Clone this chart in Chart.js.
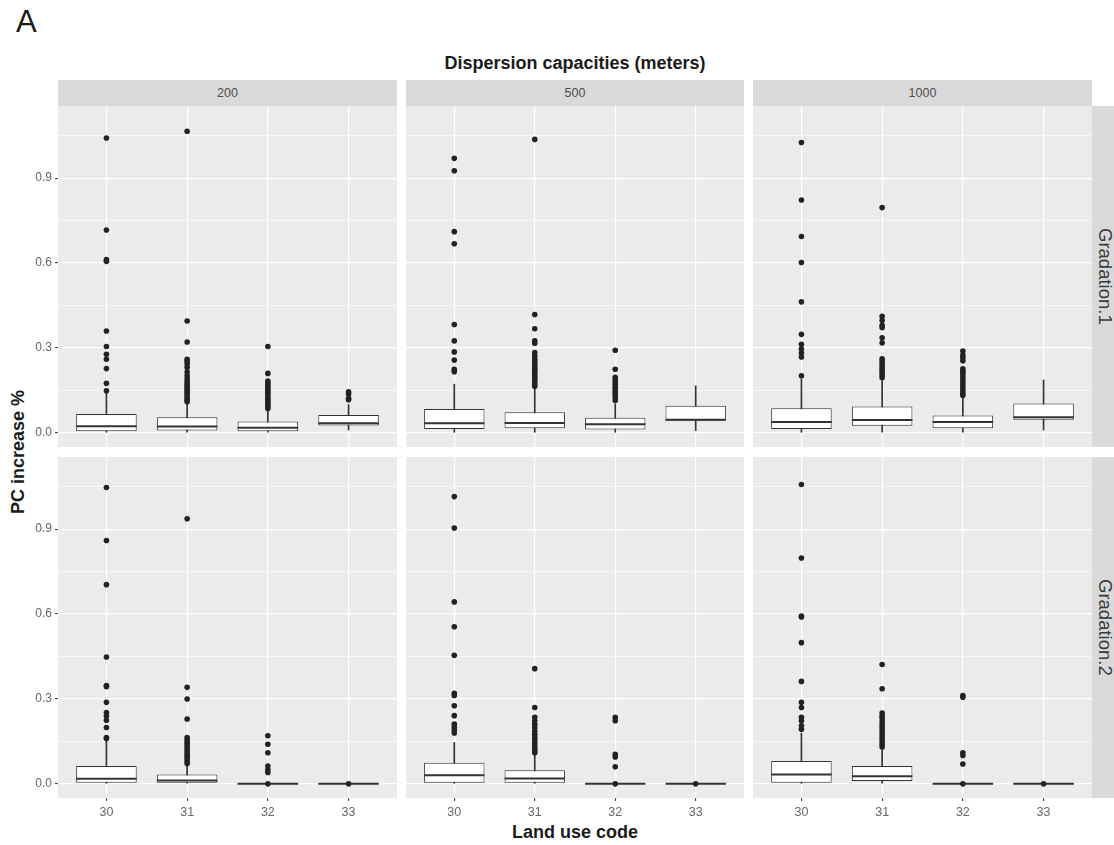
<!DOCTYPE html>
<html>
<head>
<meta charset="utf-8">
<script src="https://cdn.jsdelivr.net/npm/chart.js@4.4.1/dist/chart.umd.min.js"></script>
<style>
  body { margin: 0; width: 1114px; height: 845px; background: #fff; overflow: hidden; position: relative;
         font-family: "Liberation Sans", Arial, sans-serif; }
  .txt { position: absolute; color: #1a1a1a; white-space: nowrap; }
  .strip { position: absolute; background: #d9d9d9; color: #4d4d4d; font-size: 12.5px;
           display: flex; align-items: center; justify-content: center; }
  .strip.side { writing-mode: vertical-rl; font-size: 18.5px; color: #3a3a3a; }
  .panel { position: absolute; }
</style>
</head>
<body>
<div class="txt" style="left:16px; top:4px; font-size:31px;">A</div>
<div class="txt" id="title" style="left:58px; width:1034px; top:53px; text-align:center; font-size:18px; font-weight:bold;">Dispersion capacities (meters)</div>
<div class="txt" style="left:7px; top:106px; height:692px; width:22px; writing-mode:vertical-rl; transform:rotate(180deg);
     display:flex; align-items:center; justify-content:center; font-size:18px; font-weight:bold;">PC increase %</div>
<div class="txt" style="left:58px; width:1034px; top:822px; text-align:center; font-size:18px; font-weight:bold;">Land use code</div>
<div id="plots"></div>
<script>
const codes = [30, 31, 32, 33];
const capacities = ['200', '500', '1000'];
const gradations = ['Gradation.1', 'Gradation.2'];
const yTicks = [0, 0.15, 0.3, 0.45, 0.6, 0.75, 0.9, 1.05];

// one row per panel: G1-200, G1-500, G1-1000, G2-200, G2-500, G2-1000; one value per land use code
const lowerWhisker = [
  [0, 0, 0, 0.01],
  [0, 0, 0, 0.008],
  [0, 0, 0, 0.01],
  [0, 0, 0, 0],
  [0, 0, 0, 0],
  [0, 0, 0, 0]
];
const q1 = [
  [0.006, 0.008, 0.006, 0.026],
  [0.014, 0.016, 0.012, 0.043],
  [0.014, 0.025, 0.016, 0.046],
  [0.004, 0.004, 0, 0],
  [0.004, 0.004, 0, 0],
  [0.004, 0.01, 0, 0]
];
const median = [
  [0.023, 0.022, 0.018, 0.034],
  [0.034, 0.035, 0.03, 0.046],
  [0.038, 0.045, 0.038, 0.055],
  [0.018, 0.012, 0, 0],
  [0.03, 0.019, 0, 0],
  [0.033, 0.027, 0, 0]
];
const q3 = [
  [0.067, 0.055, 0.04, 0.063],
  [0.084, 0.073, 0.053, 0.096],
  [0.087, 0.093, 0.061, 0.104],
  [0.063, 0.033, 0, 0],
  [0.075, 0.048, 0, 0],
  [0.081, 0.063, 0, 0]
];
const upperWhisker = [
  [0.14, 0.105, 0.078, 0.1],
  [0.172, 0.155, 0.102, 0.166],
  [0.19, 0.185, 0.125, 0.187],
  [0.152, 0.065, 0, 0],
  [0.146, 0.104, 0, 0],
  [0.18, 0.12, 0, 0]
];
const outliers = [
  [
    [1.042, 0.717, 0.612, 0.606, 0.36, 0.305, 0.278, 0.26, 0.227, 0.175, 0.149],
    [1.066, 0.395, 0.321, 0.26, 0.252, 0.243, 0.231, 0.215, 0.202, 0.19, 0.18, 0.172, 0.165, 0.158, 0.15, 0.143, 0.137, 0.13, 0.122, 0.115, 0.11],
    [0.305, 0.21, 0.183, 0.175, 0.168, 0.16, 0.152, 0.145, 0.138, 0.13, 0.122, 0.115, 0.108, 0.1, 0.093, 0.086],
    [0.145, 0.137, 0.122, 0.117]
  ],
  [
    [0.97, 0.926, 0.711, 0.668, 0.383, 0.325, 0.286, 0.257, 0.225, 0.216],
    [1.037, 0.418, 0.368, 0.325, 0.317, 0.284, 0.272, 0.262, 0.255, 0.247, 0.24, 0.232, 0.225, 0.218, 0.21, 0.202, 0.195, 0.188, 0.18, 0.172, 0.165],
    [0.292, 0.225, 0.196, 0.188, 0.18, 0.172, 0.163, 0.155, 0.147, 0.14, 0.132, 0.123, 0.114],
    []
  ],
  [
    [1.026, 0.823, 0.694, 0.602, 0.463, 0.348, 0.313, 0.296, 0.282, 0.268, 0.202],
    [0.796, 0.412, 0.398, 0.38, 0.372, 0.336, 0.318, 0.262, 0.254, 0.245, 0.236, 0.228, 0.22, 0.212, 0.204, 0.195],
    [0.289, 0.275, 0.265, 0.255, 0.226, 0.218, 0.21, 0.2, 0.19, 0.18, 0.17, 0.16, 0.15, 0.14, 0.132],
    []
  ],
  [
    [1.047, 0.86, 0.704, 0.448, 0.347, 0.343, 0.288, 0.252, 0.24, 0.225, 0.199, 0.164, 0.16],
    [0.937, 0.341, 0.3, 0.229, 0.164, 0.155, 0.146, 0.138, 0.13, 0.122, 0.113, 0.105, 0.097, 0.089, 0.08, 0.072],
    [0.17, 0.14, 0.11, 0.063, 0.05, 0.04, 0],
    [0]
  ],
  [
    [1.015, 0.904, 0.643, 0.555, 0.454, 0.32, 0.312, 0.276, 0.241, 0.211, 0.2, 0.19, 0.18],
    [0.407, 0.27, 0.235, 0.223, 0.21, 0.198, 0.186, 0.175, 0.165, 0.155, 0.145, 0.135, 0.125, 0.115, 0.11],
    [0.235, 0.223, 0.104, 0.095, 0.06, 0],
    [0]
  ],
  [
    [1.058, 0.798, 0.593, 0.59, 0.499, 0.362, 0.288, 0.27, 0.235, 0.223, 0.205, 0.193],
    [0.422, 0.336, 0.25, 0.24, 0.233, 0.222, 0.21, 0.2, 0.19, 0.18, 0.17, 0.16, 0.15, 0.14, 0.13],
    [0.312, 0.306, 0.11, 0.1, 0.07, 0],
    [0]
  ]
];

const colX = [[58, 397], [406, 744], [753, 1092]];
const rowY = [[106, 447], [457, 798]];
const isMajor = (v) => Math.abs(v / 0.3 - Math.round(v / 0.3)) < 1e-6;

const panelBg = {
  id: 'panelBg',
  beforeDraw(chart) {
    const { ctx, chartArea: a } = chart;
    ctx.save();
    ctx.fillStyle = '#ebebeb';
    ctx.fillRect(a.left, a.top, a.width, a.height);
    ctx.restore();
  }
};

const plots = document.getElementById('plots');

function addDiv(cls, left, top, width, height, text) {
  const d = document.createElement('div');
  d.className = cls;
  Object.assign(d.style, { left: left + 'px', top: top + 'px', width: width + 'px', height: height + 'px' });
  if (text) d.textContent = text;
  plots.appendChild(d);
  return d;
}

// keep the plot area exactly where the facet sits: no label overhang padding
function fixSize(s, size) {
  if (s.isHorizontal()) s.height = size; else s.width = size;
  s.paddingTop = 0;
  s.paddingBottom = 0;
  s.paddingLeft = 0;
  s.paddingRight = 0;
}

capacities.forEach((cap, c) => {
  addDiv('strip', colX[c][0], 80, colX[c][1] - colX[c][0], 26, cap);
});
gradations.forEach((g, r) => {
  addDiv('strip side', 1092, rowY[r][0], 26, rowY[r][1] - rowY[r][0], g);
});

gradations.forEach((g, r) => {
  capacities.forEach((cap, c) => {
    const p = r * 3 + c;
    const leftAxis = c === 0 ? 40 : 0;
    const bottomAxis = r === 1 ? 28 : 0;
    const box = addDiv('panel', colX[c][0] - leftAxis, rowY[r][0],
      colX[c][1] - colX[c][0] + leftAxis, rowY[r][1] - rowY[r][0] + bottomAxis);
    const canvas = document.createElement('canvas');
    box.appendChild(canvas);

    const outlierPts = [];
    codes.forEach((code, i) => outliers[p][i].forEach((v) => outlierPts.push({ x: code, y: v })));

    new Chart(canvas, {
      type: 'bar',
      data: {
        datasets: [
          {
            label: 'whisker',
            data: codes.map((code, i) => ({ x: code, y: [lowerWhisker[p][i], upperWhisker[p][i]] })),
            backgroundColor: '#333333',
            barThickness: 1,
            grouped: false,
            order: 4
          },
          {
            label: 'box',
            data: codes.map((code, i) => ({ x: code, y: [q1[p][i], q3[p][i]] })),
            backgroundColor: '#ffffff',
            borderColor: '#333333',
            borderWidth: 1,
            borderSkipped: false,
            barPercentage: 0.75,
            categoryPercentage: 1,
            grouped: false,
            order: 3
          },
          {
            type: 'scatter',
            label: 'median',
            data: codes.map((code, i) => ({ x: code, y: median[p][i] })),
            pointStyle: 'line',
            pointRadius: (ctx) => {
              const s = ctx.chart.scales.x;
              return Math.abs(s.getPixelForValue(1) - s.getPixelForValue(0)) * 0.375;
            },
            borderColor: '#333333',
            borderWidth: 2,
            order: 2
          },
          {
            type: 'scatter',
            label: 'outliers',
            data: outlierPts,
            pointRadius: 2.8,
            backgroundColor: '#222222',
            borderWidth: 0,
            order: 1
          }
        ]
      },
      options: {
        responsive: true,
        maintainAspectRatio: false,
        animation: false,
        events: [],
        layout: { padding: 0, autoPadding: false },
        plugins: { legend: { display: false }, tooltip: { enabled: false } },
        scales: {
          x: {
            type: 'linear',
            min: 29.4,
            max: 33.6,
            offset: false,
            afterBuildTicks: (s) => { s.ticks = codes.map((v) => ({ value: v })); },
            afterFit: (s) => fixSize(s, bottomAxis),
            border: { display: false },
            grid: {
              offset: false,
              color: '#ffffff',
              lineWidth: 1.2,
              drawTicks: r === 1,
              tickLength: 3,
              tickColor: '#333333',
              tickWidth: 1
            },
            ticks: {
              display: r === 1,
              color: '#666666',
              padding: 4,
              font: { family: 'Liberation Sans, Arial, sans-serif', size: 12.5 },
              maxRotation: 0,
              callback: (v) => String(v)
            }
          },
          y: {
            min: -0.05,
            max: 1.155,
            afterBuildTicks: (s) => { s.ticks = yTicks.map((v) => ({ value: v })); },
            afterFit: (s) => fixSize(s, leftAxis),
            border: { display: false },
            grid: {
              color: '#ffffff',
              lineWidth: (ctx) => (isMajor(ctx.tick.value) ? 1.2 : 0.6),
              drawTicks: c === 0,
              tickLength: 3,
              tickColor: (ctx) => (isMajor(ctx.tick.value) ? '#333333' : 'rgba(0,0,0,0)'),
              tickWidth: 1
            },
            ticks: {
              display: c === 0,
              color: '#666666',
              padding: 3,
              font: { family: 'Liberation Sans, Arial, sans-serif', size: 12 },
              callback: (v) => (isMajor(v) ? v.toFixed(1) : '')
            }
          }
        }
      },
      plugins: [panelBg]
    });
  });
});
</script>
</body>
</html>
